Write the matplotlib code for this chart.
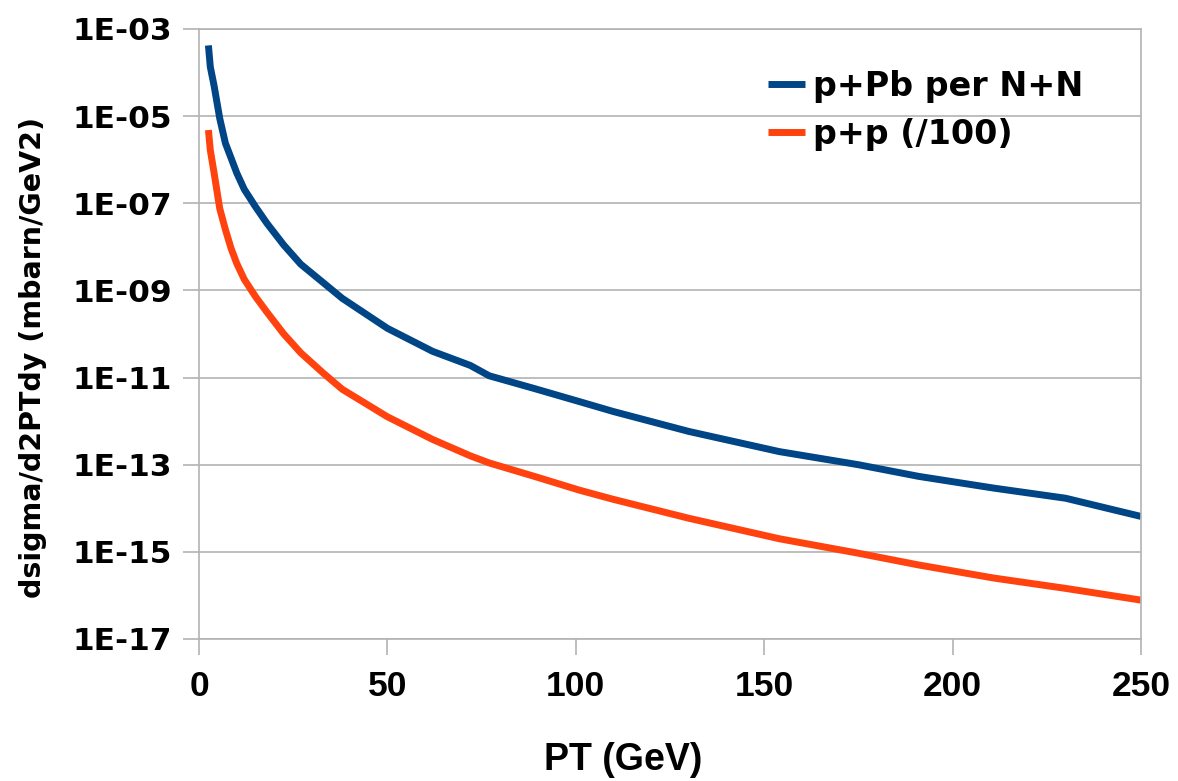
import matplotlib
matplotlib.use("Agg")
import matplotlib.pyplot as plt
from matplotlib.ticker import FixedLocator, NullLocator

# values
pt = [2.5, 3, 4, 5.5, 7, 8.5, 10, 12, 15, 18, 22.5, 27, 33, 38, 50, 62, 72, 77, 89,
      101, 110, 130, 154, 175, 191, 211, 230, 250]
ppb = [4.2e-4, 1.35e-4, 5.0e-5, 8.9e-6, 2.4e-6, 1.1e-6, 5.0e-7, 2.1e-7, 8.3e-8,
       3.5e-8, 1.1e-8, 4.0e-9, 1.5e-9, 6.6e-10, 1.35e-10, 4.0e-11, 1.9e-11, 1.1e-11,
       5.6e-12, 2.8e-12, 1.66e-12, 5.8e-13, 2.0e-13, 1.0e-13, 5.4e-14, 2.9e-14,
       1.7e-14, 6.5e-15]
pp = [4.8e-6, 1.66e-6, 5.0e-7, 7.6e-8, 2.5e-8, 9.3e-9, 4.2e-9, 1.8e-9, 7.2e-10,
      3.2e-10, 1.0e-10, 3.7e-11, 1.26e-11, 5.4e-12, 1.26e-12, 3.8e-13, 1.6e-13,
      1.1e-13, 5.4e-14, 2.6e-14, 1.6e-14, 5.9e-15, 2.0e-15, 9.3e-16, 5.0e-16,
      2.5e-16, 1.45e-16, 7.8e-17]
labels = ["p+Pb per N+N", "p+p (/100)"]
yticks = [1e-3, 1e-5, 1e-7, 1e-9, 1e-11, 1e-13, 1e-15, 1e-17]
ytick_labels = ["1E-03", "1E-05", "1E-07", "1E-09", "1E-11", "1E-13", "1E-15", "1E-17"]
xticks = [0, 50, 100, 150, 200, 250]

wide = ['DejaVu Sans']
narrow = ['Liberation Sans', 'DejaVu Sans']
plt.rcParams['font.family'] = narrow
plt.rcParams['font.weight'] = 'bold'

W, H = 1178, 781
fig = plt.figure(figsize=(W / 100, H / 100), dpi=100)
ax = fig.add_axes([199 / W, 1 - 639 / H, 942 / W, 610 / H])

grey = '#b3b3b3'
ax.plot(pt, ppb, color='#004586', lw=5, label=labels[0], solid_capstyle='butt')
ax.plot(pt, pp, color='#ff420e', lw=5, label=labels[1], solid_capstyle='butt')

ax.set_yscale('log')
ax.set_xlim(0, 250)
ax.set_ylim(1e-17, 1e-3)
ax.yaxis.set_major_locator(FixedLocator(yticks))
ax.yaxis.set_minor_locator(NullLocator())
ax.set_yticklabels(ytick_labels, family=wide, fontweight='bold', fontsize=22.5)
ax.set_xticks(xticks)
ax.set_xticklabels([str(v) for v in xticks], family=narrow, fontweight='bold', fontsize=25.5)
ax.grid(axis='y', color=grey, lw=1.2)
ax.set_axisbelow(True)
for s in ax.spines.values():
    s.set_color(grey)
    s.set_linewidth(1.2)
ax.tick_params(axis='both', which='major', color=grey, width=1.2, length=11.5, direction='out')
ax.tick_params(axis='y', pad=8)
ax.tick_params(axis='x', pad=11)

fig.text(623 / W, 1 - 760 / H, "PT (GeV)", family=narrow, fontsize=27, fontweight='bold',
         ha='center', va='center')
fig.text(33 / W, 1 - 357 / H, "dsigma/d2PTdy (mbarn/GeV2)", family=wide, fontsize=20.5,
         fontweight='bold', rotation=90, ha='center', va='center')

leg = ax.legend(loc='upper left', bbox_to_anchor=(768 / W, 1 - 70 / H),
                bbox_transform=fig.transFigure, frameon=False, borderpad=0,
                borderaxespad=0, prop={'family': wide, 'weight': 'bold', 'size': 24},
                handlelength=1.1, handletextpad=0.25, labelspacing=0.45)

fig.savefig("out.png", dpi=100)
